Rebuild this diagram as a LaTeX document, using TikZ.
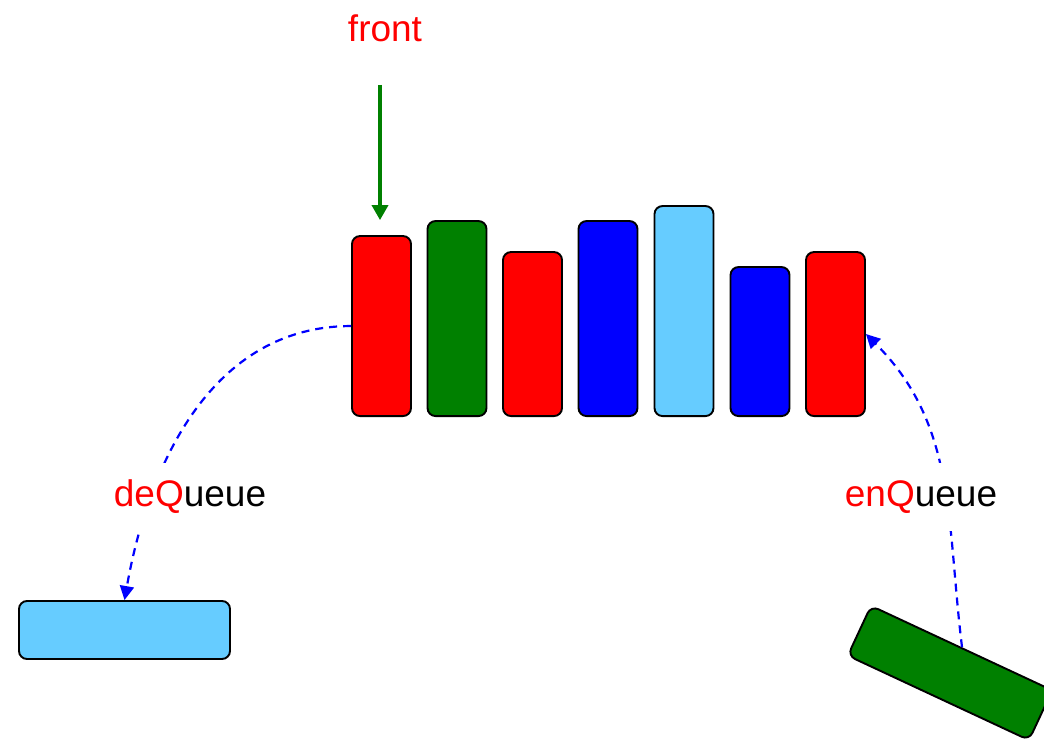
\documentclass[tikz,border=0pt]{standalone}
\usepackage{fontspec}
\setmainfont{Liberation Sans}
\usetikzlibrary{arrows.meta}
\definecolor{qred}{RGB}{255,0,0}
\definecolor{qgreen}{RGB}{0,128,0}
\definecolor{qblue}{RGB}{0,0,255}
\definecolor{qsky}{RGB}{102,204,255}

\begin{document}
\begin{tikzpicture}[x=1pt,y=1pt,
  block/.style={draw=black, line width=1.9pt, rounded corners=8pt, inner sep=0pt,
                minimum width=59pt},
  bar/.style={block, anchor=south, minimum height=#1},
  flow/.style={draw=qblue, line width=2.2pt, dash pattern=on 8pt off 6pt,
               -{Triangle[length=14pt,width=14pt]}},
  tag/.style={font=\fontsize{37}{44}\selectfont, fill=white, inner sep=0pt,
              minimum height=68pt, minimum width=156pt},
  pointer/.style={draw=qgreen, line width=3.5pt,
                  -{Triangle[length=15pt,width=16pt]}}]
\clip (0,0) rectangle (1044,740);

% the queue, front on the left
\node[bar=180pt, fill=qred]   (b1) at (381.5,323) {};
\node[bar=195pt, fill=qgreen] (b2) at (457,323) {};
\node[bar=164pt, fill=qred]   (b3) at (532.5,323) {};
\node[bar=195pt, fill=qblue]  (b4) at (608,323) {};
\node[bar=210pt, fill=qsky]   (b5) at (684,323) {};
\node[bar=149pt, fill=qblue]  (b6) at (760,323) {};
\node[bar=164pt, fill=qred]   (b7) at (835.5,323) {};

% element leaving and element arriving
\node[block, fill=qsky, minimum width=211pt, minimum height=58pt] (out) at (124.5,110) {};
\node[block, fill=qgreen, minimum width=200pt, minimum height=55pt, rotate=-25] (in) at (950,67) {};

% front pointer
\node[font=\fontsize{37}{44}\selectfont, text=qred] (front) at (385,712) {front};
\coordinate (fronttail) at (380,655);
\draw[pointer] (fronttail) -- ([yshift=15pt]b1.north -| fronttail);

% operations
\draw[flow] (b1.west) to[out=180,in=80] (out.north);
\draw[flow] (in.north) to[out=97,in=-45] (b7.east);
\node[tag] (deq) at (190,243) {\textcolor{qred}{deQ}ueue};
\node[tag] (enq) at (921,243) {\textcolor{qred}{enQ}ueue};
\end{tikzpicture}
\end{document}
